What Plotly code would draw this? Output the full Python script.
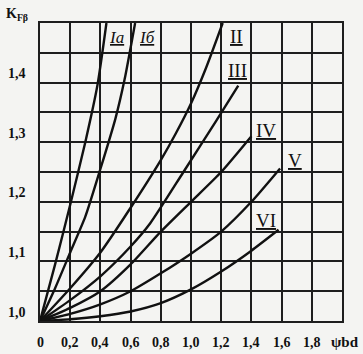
import plotly.graph_objects as go

# ---- data ----
x_Ia = [0, 0.1, 0.2, 0.3, 0.38, 0.44]
k_Ia = [1.0, 1.095, 1.195, 1.3, 1.395, 1.5]

x_Ib = [0, 0.1, 0.2, 0.3, 0.4, 0.5, 0.56, 0.63]
k_Ib = [1.0, 1.055, 1.115, 1.175, 1.255, 1.34, 1.405, 1.5]

x_II = [0, 0.2, 0.4, 0.6, 0.8, 0.9, 1.0, 1.1, 1.21]
k_II = [1.0, 1.055, 1.115, 1.19, 1.27, 1.315, 1.365, 1.425, 1.5]

x_III = [0, 0.2, 0.4, 0.6, 0.73, 0.95, 1.17, 1.313]
k_III = [1.0, 1.035, 1.075, 1.125, 1.164, 1.25, 1.337, 1.395]

x_IV = [0, 0.2, 0.4, 0.6, 0.8, 1.0, 1.2, 1.4]
k_IV = [1.0, 1.022, 1.05, 1.095, 1.15, 1.2, 1.25, 1.31]

x_V = [0, 0.2, 0.4, 0.6, 0.8, 1.0, 1.2, 1.4, 1.59]
k_V = [1.0, 1.012, 1.028, 1.05, 1.08, 1.113, 1.15, 1.2, 1.256]

x_VI = [0, 0.2, 0.4, 0.6, 0.8, 1.0, 1.2, 1.4, 1.58]
k_VI = [1.0, 1.003, 1.008, 1.016, 1.03, 1.053, 1.083, 1.118, 1.153]

curve_names = ["Iа", "Iб", "II", "III", "IV", "V", "VI"]

x_tick_vals = [0, 0.2, 0.4, 0.6, 0.8, 1.0, 1.2, 1.4, 1.6, 1.8, 2.0]
x_tick_text = ["0", "0,2", "0,4", "0,6", "0,8", "1,0", "1,2", "1,4", "1,6", "1,8", "ψbd"]
y_tick_vals = [1.0, 1.1, 1.2, 1.3, 1.4]
y_tick_text = ["1,0", "1,1", "1,2", "1,3", "1,4"]

# ---- figure ----
series = [(x_Ia, k_Ia), (x_Ib, k_Ib), (x_II, k_II), (x_III, k_III),
          (x_IV, k_IV), (x_V, k_V), (x_VI, k_VI)]

fig = go.Figure()
for (xs, ks), name in zip(series, curve_names):
    fig.add_trace(go.Scatter(x=xs, y=ks, mode="lines", name=name,
                             line=dict(color="#111111", width=2.4, shape="spline", smoothing=0.6),
                             showlegend=False, hoverinfo="skip"))

font_serif = "Liberation Serif"
ink = "#111111"

# curve labels (data coordinates)
label_pos = [(0.505, 1.475), (0.71, 1.475), (1.298, 1.478), (1.305, 1.421),
             (1.497, 1.320), (1.689, 1.270), (1.497, 1.169)]
for name, (lx, ly) in zip(curve_names, label_pos):
    italic = name in ("Iа", "Iб")
    txt = f"<i><u>{name}</u></i>" if italic else f"<u>{name}</u>"
    fig.add_annotation(x=lx, y=ly, xref="x", yref="y", text=txt, showarrow=False,
                       font=dict(family=font_serif, size=17 if italic else 19, color=ink))

# tick labels
for v, t in zip(x_tick_vals, x_tick_text):
    fig.add_annotation(x=v, y=0, xref="x", yref="paper", text=f"<b>{t}</b>", showarrow=False,
                       yanchor="middle", xanchor="center", yshift=-21,
                       xshift=3 if t == "ψbd" else 0,
                       font=dict(family=font_serif, size=15 if t == "ψbd" else 14, color=ink))
for v, t in zip(y_tick_vals, y_tick_text):
    fig.add_annotation(x=0, y=v, xref="paper", yref="y", text=f"<b>{t}</b>", showarrow=False,
                       yanchor="middle", xanchor="center", xshift=-23, yshift=9,
                       font=dict(family=font_serif, size=14, color=ink))

# axis title
fig.add_annotation(x=0, y=1, xref="paper", yref="paper", text="<b>K<sub>Fβ</sub></b>",
                   showarrow=False, xanchor="left", yanchor="middle",
                   xshift=-36, yshift=9,
                   font=dict(family=font_serif, size=14, color=ink))

fig.update_xaxes(range=[0, 2], tick0=0, dtick=0.2, showgrid=True, gridcolor="#1e1e1e",
                 gridwidth=2, zeroline=False, showline=True, linecolor="#1e1e1e",
                 linewidth=2, mirror=True, showticklabels=False, ticks="")
fig.update_yaxes(range=[1.0, 1.5], tick0=1.0, dtick=0.05, showgrid=True, gridcolor="#1e1e1e",
                 gridwidth=2, zeroline=False, showline=True, linecolor="#1e1e1e",
                 linewidth=2, mirror=True, showticklabels=False, ticks="")

fig.update_layout(width=363, height=354, margin=dict(l=40, r=21, t=23, b=33),
                  paper_bgcolor="#f4f4f2", plot_bgcolor="#f4f4f2")

fig.write_html("out.html")
